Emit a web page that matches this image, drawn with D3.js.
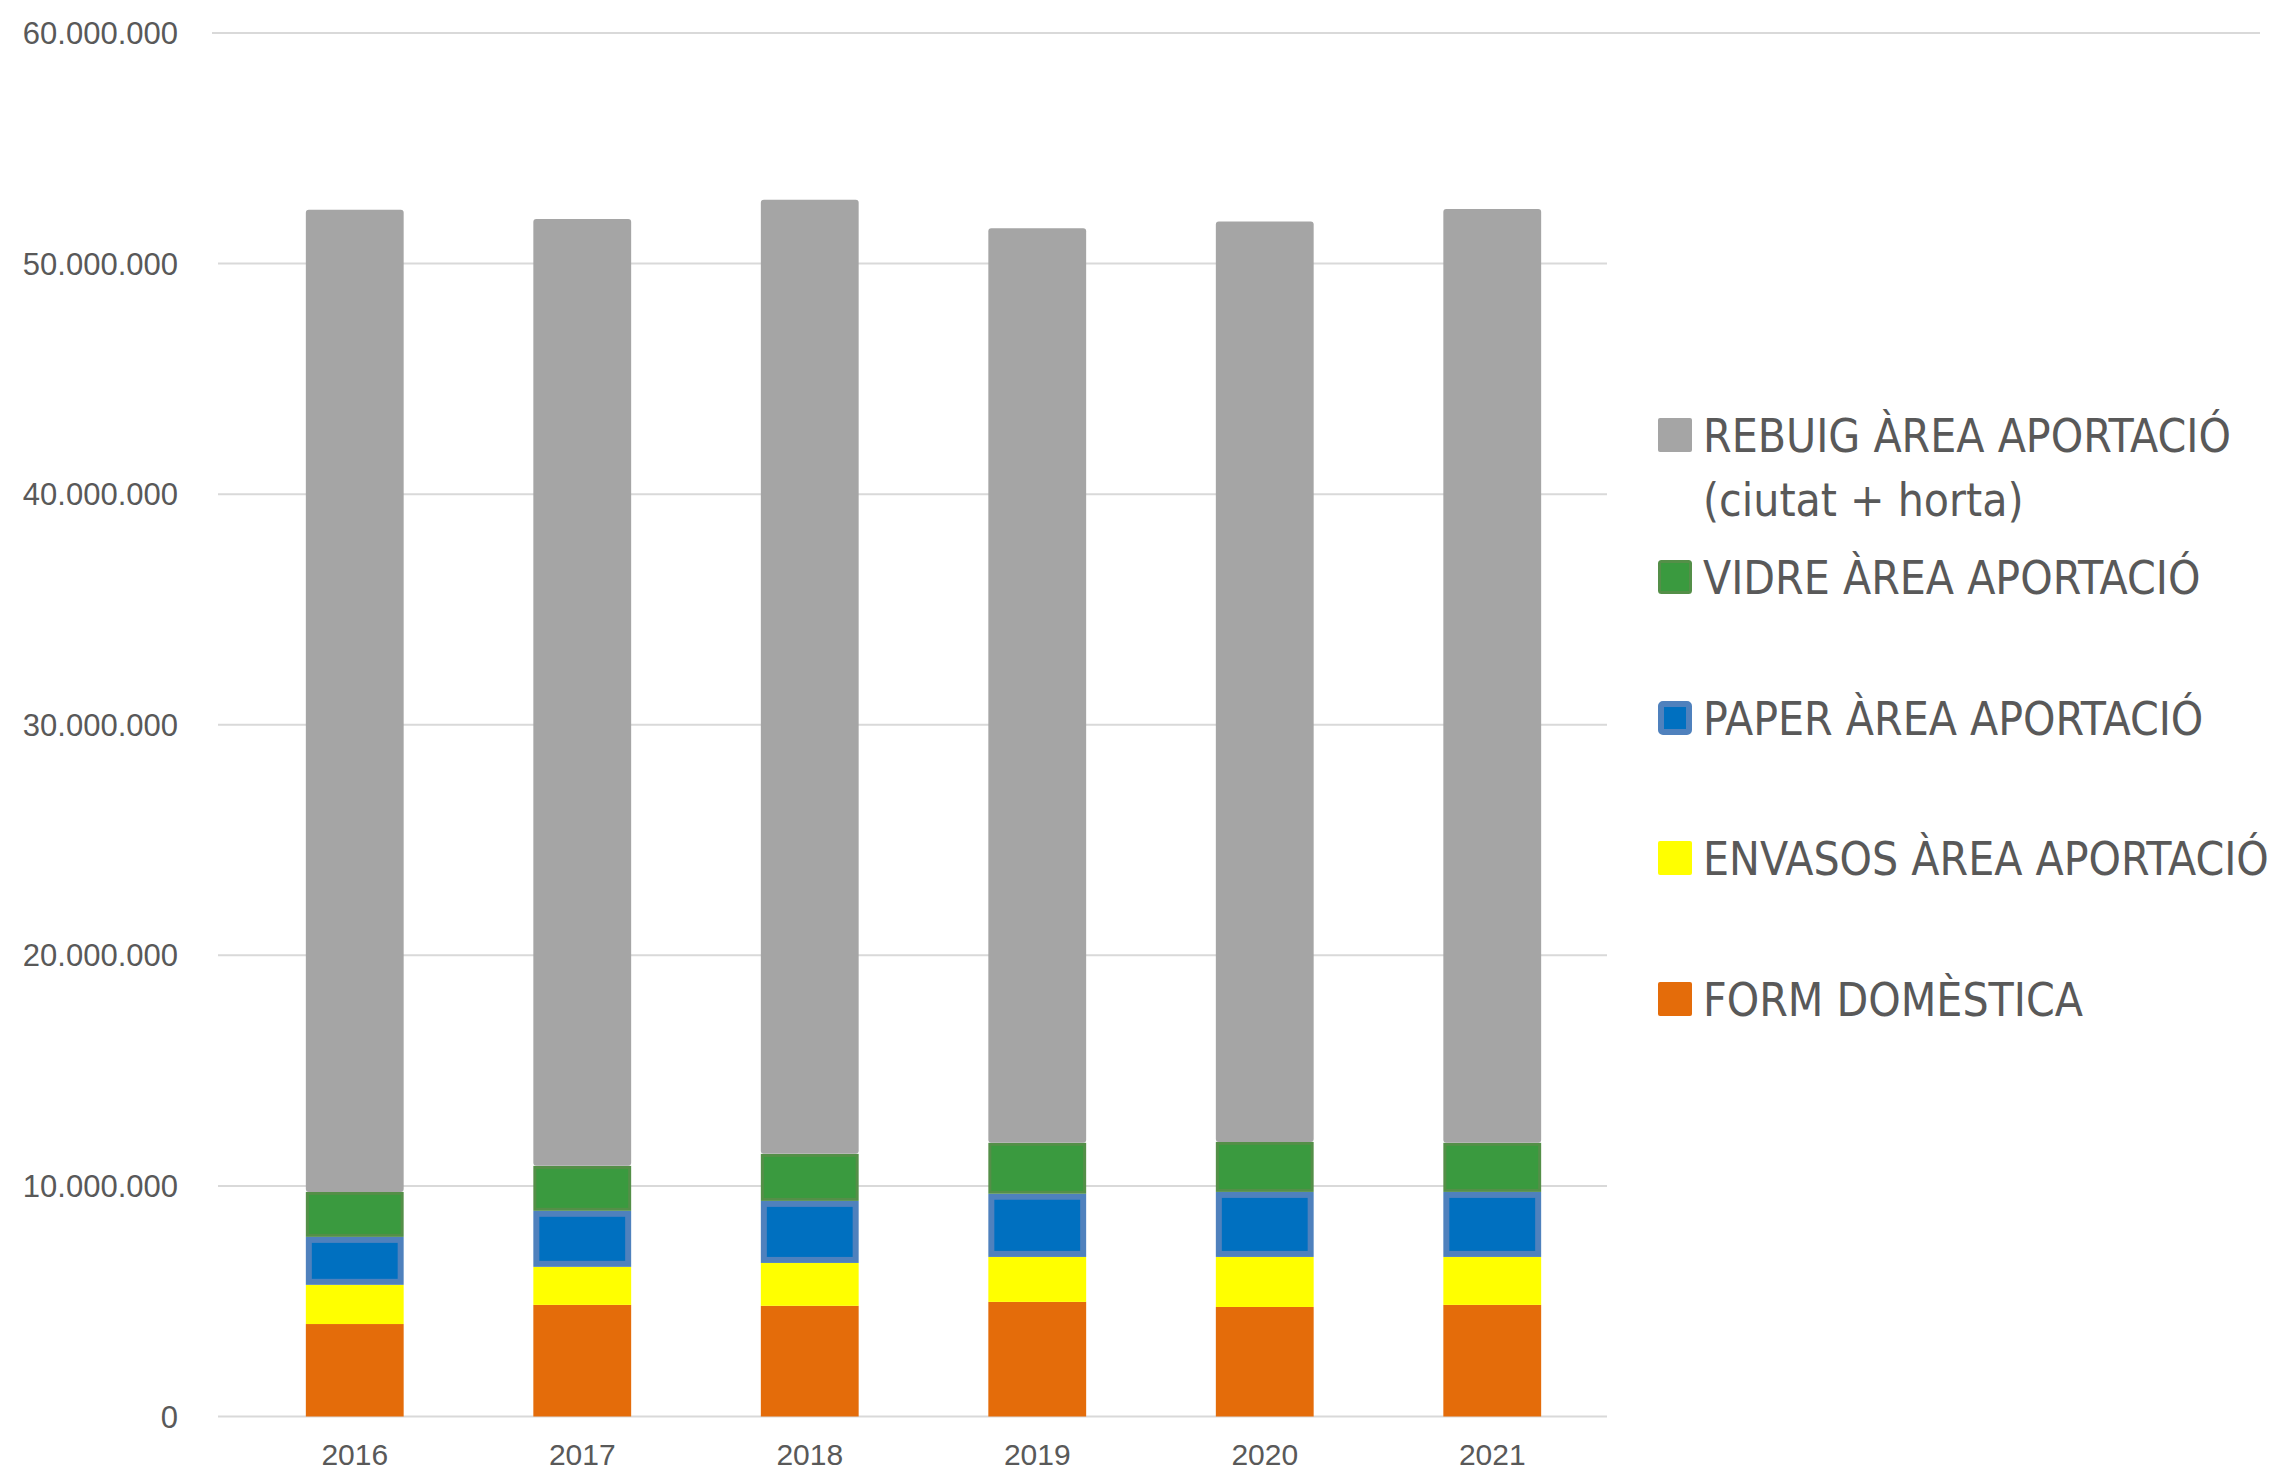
<!DOCTYPE html>
<html>
<head>
<meta charset="utf-8">
<script src="https://cdn.jsdelivr.net/npm/d3@7"></script>
<style>
  body { margin: 0; background: #fff; }
  text { fill: #595959; }
</style>
</head>
<body>
<div id="chart"></div>
<script>
// values in millions
let years = ['2016', '2017', '2018', '2019', '2020', '2021']
let formDomestica = [4.01, 4.84, 4.80, 4.97, 4.75, 4.84]
let envasos = [1.70, 1.65, 1.86, 1.95, 2.17, 2.08]
let paper = [2.08, 2.43, 2.69, 2.74, 2.82, 2.82]
let vidre = [1.95, 1.95, 2.04, 2.21, 2.17, 2.13]
let rebuig = [42.59, 41.06, 41.38, 39.66, 39.92, 40.50]
let yTicks = [0, 10, 20, 30, 40, 50, 60]

let seriesNames = ['FORM DOMÈSTICA', 'ENVASOS ÀREA APORTACIÓ', 'PAPER ÀREA APORTACIÓ', 'VIDRE ÀREA APORTACIÓ', 'REBUIG ÀREA APORTACIÓ']
let seriesKeys = ['form', 'envasos', 'paper', 'vidre', 'rebuig']
let fills = { form: '#e46c0a', envasos: '#ffff00', paper: '#0070c0', vidre: '#3a9a3f', rebuig: '#a5a5a5' }
let strokes = { form: 'none', envasos: 'none', paper: '#4f81bd', vidre: '#548f48', rebuig: 'none' }
let strokeW = { form: 0, envasos: 0, paper: 6, vidre: 3, rebuig: 0 }

let W = 2279, H = 1473

let table = years.map(function (y, i) {
  return { year: y, form: formDomestica[i], envasos: envasos[i], paper: paper[i], vidre: vidre[i], rebuig: rebuig[i] }
})
let stacked = d3.stack().keys(seriesKeys)(table)

let svg = d3.select('#chart')
  .append('svg')
  .attr('width', W)
  .attr('height', H)
  .attr('viewBox', [0, 0, W, H].join(' '))

let xScale = d3.scaleBand()
  .domain(years)
  .range([241, 1606])
  .paddingInner(0.57)
  .paddingOuter(0.285)

let yScale = d3.scaleLinear()
  .domain([0, 60])
  .range([1416.5, 33])

let fmt = d3.formatLocale({ decimal: ',', thousands: '.', grouping: [3], currency: ['', ''] }).format(',')

// gridlines
svg.append('g')
  .selectAll('line')
  .data(yTicks)
  .enter()
  .append('line')
    .attr('x1', function (d) { return d == 60 ? 212 : 218 })
    .attr('x2', function (d) { return d == 60 ? 2260 : 1607 })
    .attr('y1', function (d) { return yScale(d) })
    .attr('y2', function (d) { return yScale(d) })
    .attr('stroke', '#d9d9d9')
    .attr('stroke-width', 2)

// y labels
svg.append('g')
  .selectAll('text')
  .data(yTicks)
  .enter()
  .append('text')
    .attr('x', 178)
    .attr('y', function (d) { return yScale(d) + 11 })
    .attr('text-anchor', 'end')
    .style('font-family', 'Liberation Sans, Arial, sans-serif')
    .style('font-size', '31px')
    .text(function (d) { return fmt(d * 1000000) })

// bars
let layers = svg.append('g')
  .selectAll('g')
  .data(stacked)
  .enter()
  .append('g')
    .attr('fill', function (d) { return fills[d.key] })
    .attr('stroke', function (d) { return strokes[d.key] })
    .attr('stroke-width', function (d) { return strokeW[d.key] })

layers.selectAll('rect')
  .data(function (d) { return d.map(function (p) { return { key: d.key, p: p } }) })
  .enter()
  .append('rect')
    .attr('x', function (d) { return xScale(d.p.data.year) + strokeW[d.key] / 2 })
    .attr('width', function (d) { return xScale.bandwidth() - strokeW[d.key] })
    .attr('y', function (d) { return yScale(d.p[1]) + strokeW[d.key] / 2 })
    .attr('height', function (d) { return yScale(d.p[0]) - yScale(d.p[1]) - strokeW[d.key] })
    .attr('rx', function (d) { return d.key == 'rebuig' ? 3 : 0 })

// x labels
svg.append('g')
  .selectAll('text')
  .data(years)
  .enter()
  .append('text')
    .attr('x', function (d) { return xScale(d) + xScale.bandwidth() / 2 })
    .attr('y', 1465)
    .attr('text-anchor', 'middle')
    .style('font-family', 'Liberation Sans, Arial, sans-serif')
    .style('font-size', '30px')
    .text(function (d) { return d })

// legend (top to bottom: rebuig first)
let legendY = { rebuig: 435, vidre: 577, paper: 718, envasos: 858, form: 999 }
let legendKeys = seriesKeys.slice().reverse()
let legend = svg.append('g')
  .selectAll('g')
  .data(legendKeys)
  .enter()
  .append('g')
    .attr('transform', function (d) { return 'translate(0,' + legendY[d] + ')' })

legend.append('rect')
  .attr('x', function (d) { return 1658 + strokeW[d] / 2 })
  .attr('y', function (d) { return -17 + strokeW[d] / 2 })
  .attr('width', function (d) { return 34 - strokeW[d] })
  .attr('height', function (d) { return 34 - strokeW[d] })
  .attr('rx', 2)
  .attr('fill', function (d) { return fills[d] })
  .attr('stroke', function (d) { return strokes[d] })
  .attr('stroke-width', function (d) { return strokeW[d] })

let legendFont = '"Liberation Sans Narrow", "DejaVu Sans Condensed", sans-serif'
let labels = legend.append('text')
  .attr('x', 1703)
  .attr('y', 17)
  .style('font-family', legendFont)
  .style('font-size', '46px')
  .text(function (d) { return seriesNames[seriesKeys.indexOf(d)] })

// fit font size so the first label spans like the original
let first = labels.filter(function (d) { return d == 'rebuig' }).node()
let fs = 46 * 528 / first.getComputedTextLength()
labels.style('font-size', fs + 'px')

legend.filter(function (d) { return d == 'rebuig' })
  .append('text')
    .attr('x', 1703)
    .attr('y', 81)
    .style('font-family', legendFont)
    .style('font-size', fs + 'px')
    .text('(ciutat + horta)')
</script>
</body>
</html>
